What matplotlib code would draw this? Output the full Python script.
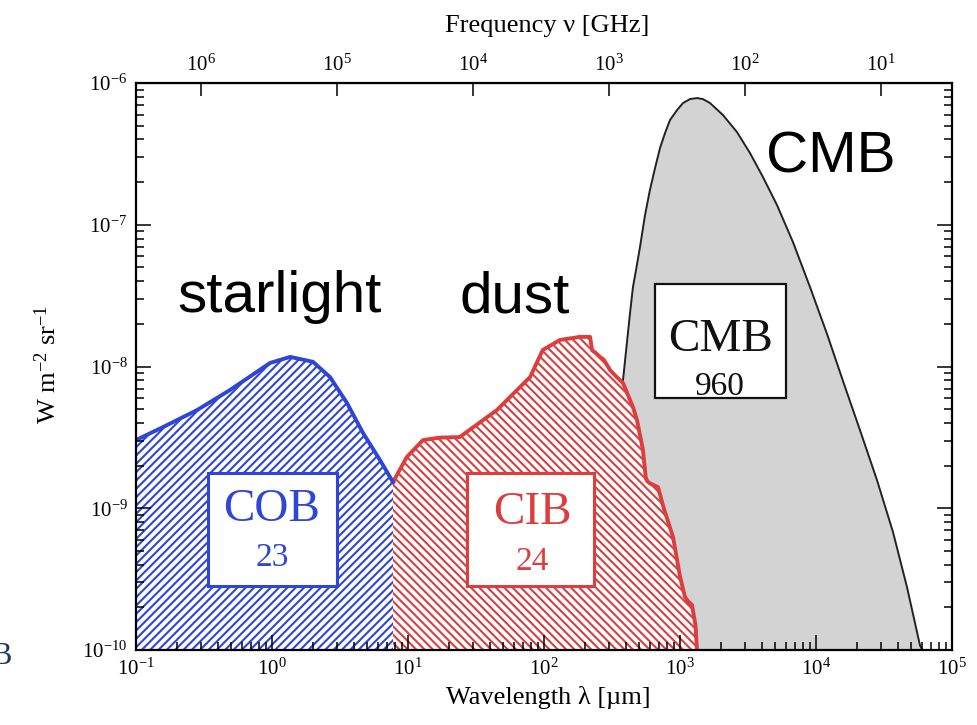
import matplotlib
matplotlib.use("Agg")
import matplotlib.pyplot as plt
from matplotlib.patches import Rectangle
from matplotlib.ticker import LogLocator, NullLocator

# ---------------------------------
# Data
# ---------------------------------
# wavelength in micron, intensity nu*I_nu in W m^-2 sr^-1
cob_lam = [0.1, 0.158, 0.281, 0.491, 0.967, 1.36, 2.0, 2.67, 3.56, 4.67, 6.22, 7.76]
cob_I = [3.03e-9, 3.74e-9, 4.93e-9, 6.83e-9, 1.06e-8, 1.17e-8, 1.08e-8, 8.43e-9,
         5.53e-9, 3.40e-9, 2.19e-9, 1.53e-9]

cib_lam = [7.76, 9.8, 12.9, 17.0, 24.0, 45.0, 79.0, 98.0, 131, 184, 218, 226, 240,
           258, 275, 306, 340, 381, 451, 483, 534, 560, 575, 601, 689, 760, 889,
           1000, 1089, 1150, 1225, 1300, 1334]
cib_I = [1.53e-9, 2.3e-9, 3.03e-9, 3.15e-9, 3.18e-9, 4.93e-9, 8.43e-9, 1.31e-8,
         1.54e-8, 1.62e-8, 1.62e-8, 1.30e-8, 1.25e-8, 1.17e-8, 1.12e-8, 9.45e-9,
         8.5e-9, 7.65e-9, 5.18e-9, 4.19e-9, 2.58e-9, 1.65e-9, 1.55e-9, 1.5e-9,
         1.41e-9, 1.0e-9, 6.27e-10, 3.3e-10, 2.36e-10, 2.2e-10, 2.08e-10, 1.5e-10,
         1.0e-10]

cmb_lam = [262, 306, 344, 381, 429, 451, 475, 508, 553, 601, 655, 713, 776, 844,
           951, 1052, 1185, 1334, 1476, 1662, 2071, 2625, 3271, 4076, 5167, 6773,
           9035, 12050, 15800, 21060, 28090, 36830, 46680, 58170, 60500]
cmb_I = [1.0e-10, 8.26e-10, 3.03e-9, 8.03e-9, 2.38e-8, 3.64e-8, 4.8e-8, 6.97e-8,
         1.17e-7, 1.76e-7, 2.51e-7, 3.48e-7, 4.44e-7, 5.48e-7, 6.45e-7, 7.23e-7,
         7.71e-7, 7.84e-7, 7.71e-7, 7.23e-7, 5.95e-7, 4.51e-7, 3.21e-7, 2.17e-7,
         1.38e-7, 7.55e-8, 3.64e-8, 1.70e-8, 7.9e-9, 3.56e-9, 1.58e-9, 6.8e-10,
         2.78e-10, 1.08e-10, 1.0e-10]

boxes = [("COB", "23"), ("CIB", "24"), ("CMB", "960")]

x_min, x_max = 1e-1, 1e5
y_min, y_max = 1e-10, 1e-6

blue = "#2f45d8"
red = "#dc3d3d"
grey = "#d3d3d3"

# ---------------------------------
# Style
# ---------------------------------
plt.rcParams["font.family"] = ["Liberation Serif", "DejaVu Serif"]
plt.rcParams["mathtext.fontset"] = "custom"
plt.rcParams["mathtext.rm"] = "Liberation Serif"
plt.rcParams["mathtext.it"] = "Liberation Serif:italic"
plt.rcParams["axes.unicode_minus"] = False
plt.rcParams["hatch.linewidth"] = 1.5

fig = plt.figure(figsize=(9.77, 7.25), dpi=100)
ax = fig.add_axes([0.1392, 0.1034, 0.8352, 0.782])
ax.set_axisbelow(False)

# ---------------------------------
# Spectra
# ---------------------------------
ax.fill_between(cmb_lam, y_min, cmb_I, facecolor=grey, edgecolor="none", zorder=1)
ax.plot(cmb_lam, cmb_I, color="#222222", lw=1.4, zorder=1.5)

ax.fill_between(cib_lam, y_min, cib_I, facecolor="white", edgecolor=red,
                hatch="\\\\\\\\", linewidth=0, zorder=2)
ax.plot(cib_lam, cib_I, color=red, lw=2.8, zorder=2.2)

ax.fill_between(cob_lam, y_min, cob_I, facecolor="white", edgecolor=blue,
                hatch="////", linewidth=0, zorder=2)
ax.plot(cob_lam, cob_I, color=blue, lw=2.8, zorder=2.2)

# ---------------------------------
# Axes
# ---------------------------------
ax.set_xscale("log")
ax.set_yscale("log")
ax.set_xlim(x_min, x_max)
ax.set_ylim(y_min, y_max)

ax.xaxis.set_major_locator(LogLocator(base=10, numticks=10))
ax.xaxis.set_minor_locator(LogLocator(base=10, subs=range(2, 10), numticks=20))
ax.yaxis.set_major_locator(LogLocator(base=10, numticks=10))
ax.yaxis.set_minor_locator(LogLocator(base=10, subs=range(2, 10), numticks=20))

ax.tick_params(which="both", direction="in", top=False, right=True,
               labelsize=15, width=1.1, pad=6)
ax.tick_params(which="major", length=11)
ax.tick_params(which="minor", length=6)
for sp in ax.spines.values():
    sp.set_linewidth(1.6)
    sp.set_zorder(3)

secax = ax.secondary_xaxis("top", functions=(lambda l: 2.998e5 / l,
                                             lambda n: 2.998e5 / n))
secax.xaxis.set_major_locator(LogLocator(base=10, numticks=10))
secax.xaxis.set_minor_locator(NullLocator())
secax.tick_params(direction="in", length=9, width=1.1, labelsize=15, pad=5)

fig.text(0.561, 0.038, "Wavelength λ [µm]", ha="center", va="center", fontsize=19)
fig.text(0.560, 0.964, "Frequency ν [GHz]", ha="center", va="center", fontsize=19)
fig.text(0.049, 0.497, r"W m$^{-2}$ sr$^{-1}$", ha="center", va="center",
         rotation=90, fontsize=19)

# ---------------------------------
# Boxed labels
# ---------------------------------
box_specs = [
    # x0, x1, y0, y1, x text, y name, y value, colour
    (0.0882, 0.2463, 0.1129, 0.3122, 0.1667, 0.2469, 0.1623, blue),
    (0.4056, 0.5613, 0.1129, 0.3122, 0.4853, 0.2416, 0.1552, red),
    (0.6360, 0.7966, 0.4444, 0.6455, 0.7157, 0.5467, 0.4638, "#111111"),
]
for (name, value), (x0, x1, y0, y1, xt, yn, yv, col) in zip(boxes, box_specs):
    lw = 1.6 if col == "#111111" else 2.2
    ax.add_patch(Rectangle((x0, y0), x1 - x0, y1 - y0, transform=ax.transAxes,
                           facecolor="white", edgecolor=col, lw=lw, zorder=4))
    ax.text(xt, yn, name, transform=ax.transAxes, ha="center", va="center",
            color=col, fontsize=34, zorder=5)
    ax.text(xt, yv, value, transform=ax.transAxes, ha="center", va="center",
            color=col, fontsize=24, zorder=5)

# ---------------------------------
# Big annotations
# ---------------------------------
sans = ["Liberation Sans", "DejaVu Sans"]
ax.text(0.1765, 0.596, "starlight", transform=ax.transAxes, ha="center",
        va="baseline", fontsize=42, family=sans, zorder=5)
ax.text(0.4645, 0.596, "dust", transform=ax.transAxes, ha="center",
        va="baseline", fontsize=42, family=sans, zorder=5)
ax.text(0.8517, 0.843, "CMB", transform=ax.transAxes, ha="center",
        va="baseline", fontsize=42, family=sans, zorder=5)

# cropped glyph at the left edge of the source image
fig.text(-0.009, 0.095, "B", ha="left", va="center", fontsize=22, color="#1d3766")

fig.savefig("out.png", dpi=100)
